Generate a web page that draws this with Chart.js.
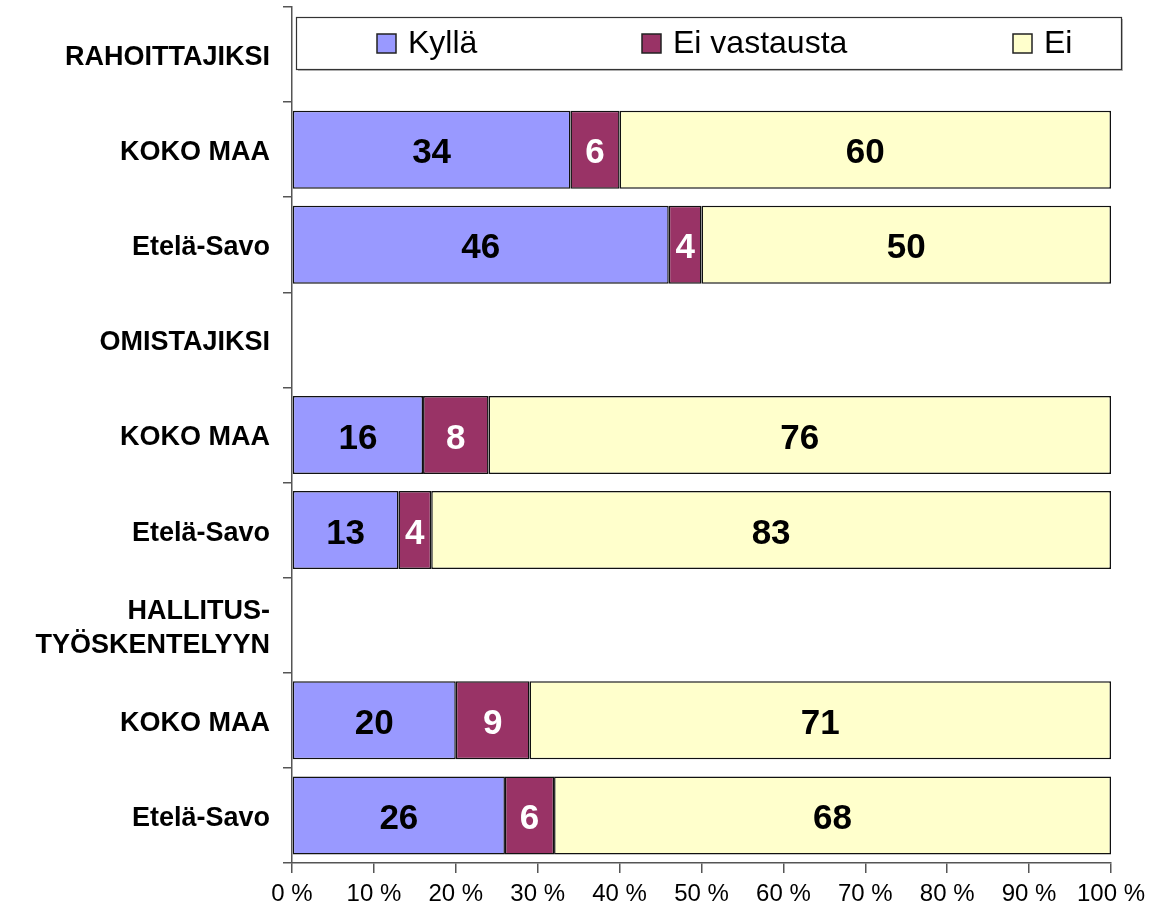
<!DOCTYPE html>
<html>
<head>
<meta charset="utf-8">
<script src="https://cdn.jsdelivr.net/npm/chart.js@4.4.1/dist/chart.umd.min.js"></script>
<style>
  body { margin: 0; background: #fff; }
  #wrap { width: 1153px; height: 914px; }
</style>
</head>
<body>
<div id="wrap"><canvas id="kyselyChart" width="1153" height="914"></canvas></div>
<script>
// categories (empty rows are section headers)
const categories = [
  "RAHOITTAJIKSI", "KOKO MAA", "Etelä-Savo",
  "OMISTAJIKSI", "KOKO MAA", "Etelä-Savo",
  ["HALLITUS-", "TYÖSKENTELYYN"], "KOKO MAA", "Etelä-Savo"
];

const seriesNames = ["Kyllä", "Ei vastausta", "Ei"];

const kyllaValues = [null, 34, 46, null, 16, 13, null, 20, 26];
const eiVastaustaValues = [null, 6, 4, null, 8, 4, null, 9, 6];
const eiValues = [null, 60, 50, null, 76, 83, null, 71, 68];

const xTicks = [0, 10, 20, 30, 40, 50, 60, 70, 80, 90, 100];

const colors = ["#9999FF", "#993366", "#FFFFCC"];
const labelColors = ["#000", "#fff", "#000"];

const FONT = "'Liberation Sans', Arial, sans-serif";

// numbers inside the bar segments
const barValuesPlugin = {
  id: "barValues",
  afterDatasetsDraw(chart) {
    const ctx = chart.ctx;
    ctx.save();
    ctx.font = "bold 35px " + FONT;
    ctx.textAlign = "center";
    ctx.textBaseline = "middle";
    chart.data.datasets.forEach((ds, i) => {
      const meta = chart.getDatasetMeta(i);
      meta.data.forEach((bar, j) => {
        const v = ds.data[j];
        if (v === null) return;
        ctx.fillStyle = labelColors[i];
        ctx.fillText(v, (bar.x + bar.base) / 2, bar.y + 4);
      });
    });
    ctx.restore();
  }
};

// legend box that sits on top of the first row, like in the original
const boxLegendPlugin = {
  id: "boxLegend",
  afterDraw(chart) {
    const ctx = chart.ctx;
    const area = chart.chartArea;
    const left = area.left + 4, top = 17, w = 825, h = 52;
    ctx.save();
    ctx.fillStyle = "#bbb";
    ctx.fillRect(left + 2, top + 2, w, h);
    ctx.fillStyle = "#fff";
    ctx.fillRect(left, top, w, h);
    ctx.strokeStyle = "#333";
    ctx.lineWidth = 1.2;
    ctx.strokeRect(left + 0.5, top + 0.5, w, h);

    const itemX = [377, 642, 1013];
    ctx.font = "32px " + FONT;
    ctx.textBaseline = "middle";
    seriesNames.forEach((name, i) => {
      const x = itemX[i];
      const y = top + h / 2;
      ctx.fillStyle = colors[i];
      ctx.fillRect(x, y - 9, 19, 19);
      ctx.strokeStyle = "#222";
      ctx.lineWidth = 1.5;
      ctx.strokeRect(x, y - 9, 19, 19);
      ctx.fillStyle = "#000";
      ctx.fillText(name, x + 31, y + 1);
    });
    ctx.restore();
  }
};

const ctx = document.getElementById("kyselyChart").getContext("2d");

new Chart(ctx, {
  type: "bar",
  data: {
    labels: categories,
    datasets: [
      { label: seriesNames[0], data: kyllaValues, backgroundColor: colors[0] },
      { label: seriesNames[1], data: eiVastaustaValues, backgroundColor: colors[1] },
      { label: seriesNames[2], data: eiValues, backgroundColor: colors[2] }
    ].map(ds => Object.assign(ds, {
      borderColor: "#111",
      borderWidth: 1.5,
      borderSkipped: false,
      barPercentage: 0.82,
      categoryPercentage: 1
    }))
  },
  options: {
    indexAxis: "y",
    responsive: false,
    animation: false,
    layout: { padding: { top: 7, right: 42, bottom: 0, left: 0 } },
    plugins: {
      legend: { display: false },
      tooltip: { enabled: false }
    },
    scales: {
      x: {
        stacked: true,
        min: 0,
        max: 100,
        afterBuildTicks(scale) {
          scale.ticks = xTicks.map(v => ({ value: v }));
        },
        afterFit(scale) { scale.height = 51; },
        border: { display: true, color: "#555", width: 1.5 },
        grid: { drawOnChartArea: false, drawTicks: true, tickLength: 10, color: "#555", lineWidth: 1.5 },
        ticks: {
          color: "#000",
          padding: 7,
          maxRotation: 0,
          font: { family: FONT, size: 24 },
          callback: v => v + " %"
        }
      },
      y: {
        stacked: true,
        afterFit(scale) {
          scale.width = 292;
          scale.paddingTop = 0;
          scale.paddingBottom = 0;
        },
        border: { display: true, color: "#555", width: 1.5 },
        grid: { drawOnChartArea: false, drawTicks: true, tickLength: 9, color: "#555", lineWidth: 1.5, offset: true },
        ticks: {
          color: "#000",
          padding: 13,
          labelOffset: 3,
          font: { family: FONT, size: 27, weight: "bold", lineHeight: 1.25 }
        }
      }
    }
  },
  plugins: [barValuesPlugin, boxLegendPlugin]
});
</script>
</body>
</html>
